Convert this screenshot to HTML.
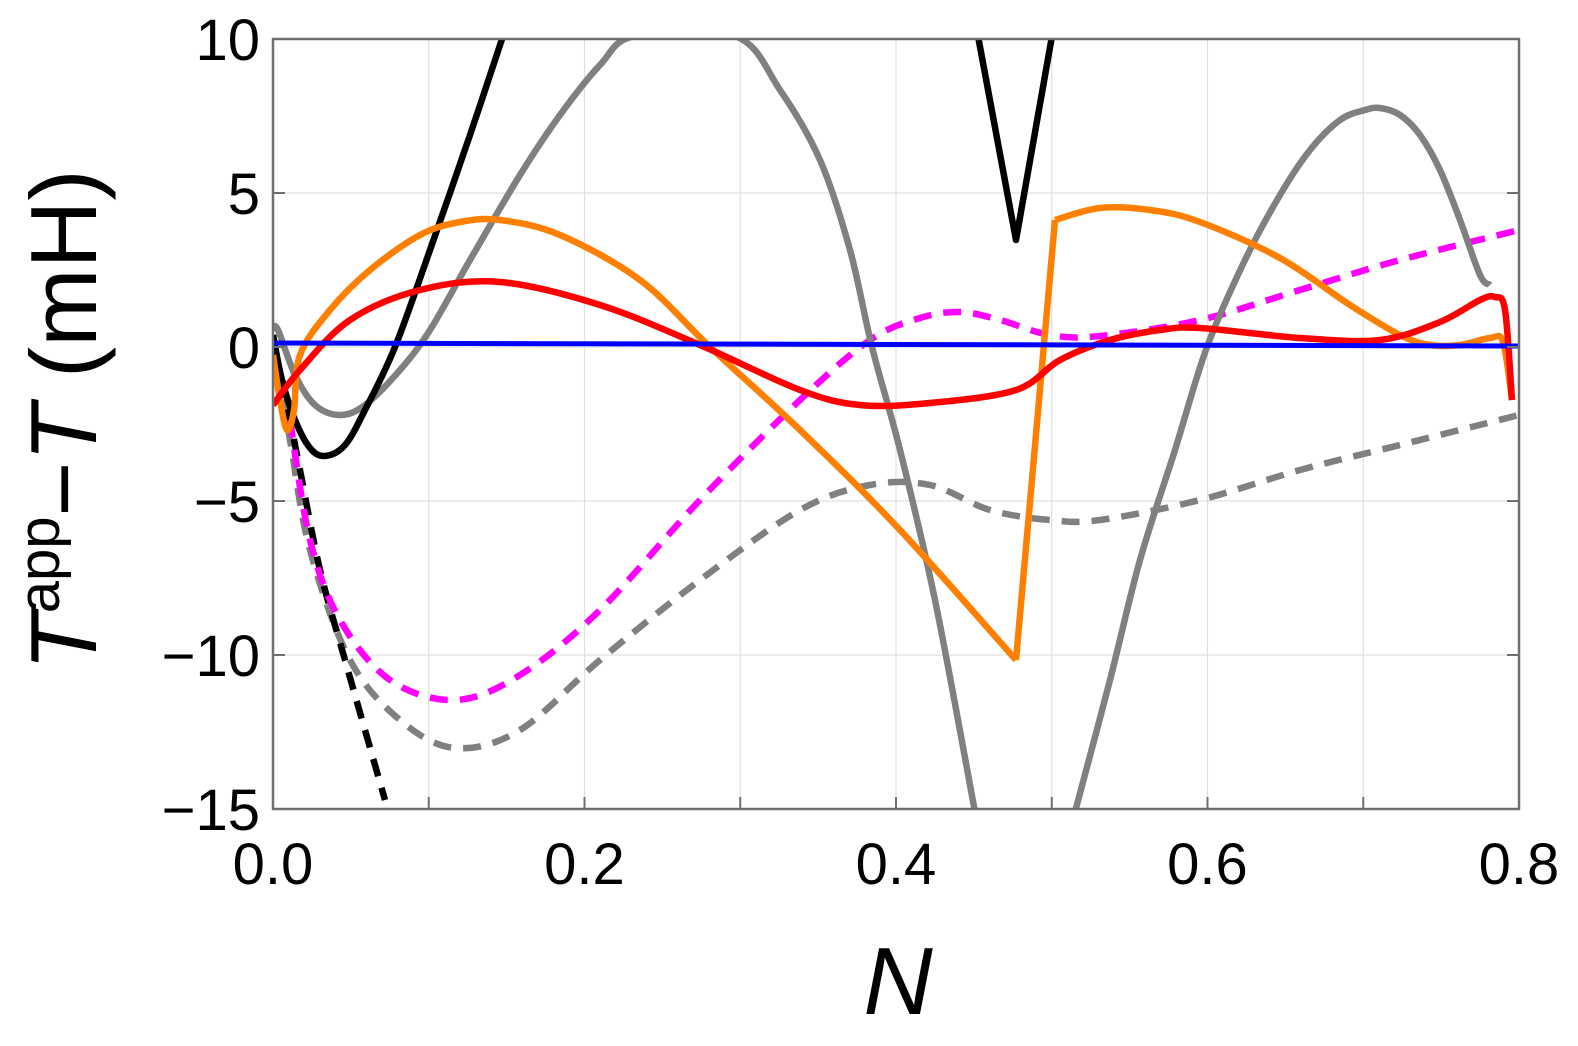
<!DOCTYPE html>
<html><head><meta charset="utf-8"><style>
html,body{margin:0;padding:0;background:#fff;}
svg{display:block;}
text{font-family:"Liberation Sans",sans-serif;fill:#000;}
</style></head><body>
<svg id="s" width="1578" height="1046" viewBox="0 0 1578 1046">
<g stroke="#e0e0e0" stroke-width="1.2">
<line x1="428.75" y1="39" x2="428.75" y2="809"/><line x1="584.5" y1="39" x2="584.5" y2="809"/>
<line x1="740.25" y1="39" x2="740.25" y2="809"/><line x1="896" y1="39" x2="896" y2="809"/>
<line x1="1051.75" y1="39" x2="1051.75" y2="809"/><line x1="1207.5" y1="39" x2="1207.5" y2="809"/>
<line x1="1363.25" y1="39" x2="1363.25" y2="809"/>
<line x1="273" y1="193" x2="1519" y2="193"/><line x1="273" y1="347" x2="1519" y2="347"/>
<line x1="273" y1="501" x2="1519" y2="501"/><line x1="273" y1="655" x2="1519" y2="655"/>
</g>
<defs><clipPath id="c"><rect x="273" y="39" width="1246" height="770"/></clipPath></defs>
<g clip-path="url(#c)" fill="none" stroke-width="6.5" stroke-linejoin="round">
<polyline class="sm" stroke="#808080" stroke-dasharray="18,12" points="273,340 290,440 310,550 350,660 400,720 455,748 520,730 600,660 700,580 800,510 870,485 930,485 990,510 1050,520 1100,520 1200,500 1300,470 1400,445 1519,415"/>
<polyline class="sm" stroke="#000" stroke-dasharray="18,12" points="282,380 300,470 320,570 345,660 385,800"/>
<polyline class="sm" stroke="#ff00ff" stroke-dasharray="18,12" points="290,420 310,540 340,620 390,680 455,700 520,675 600,610 700,500 800,400 870,340 920,318 960,312 1000,320 1050,335 1100,336 1200,320 1300,290 1400,260 1519,230"/>
<polyline class="sm" stroke="#808080" points="273,328 278,330 295,375 315,405 340,415 365,405 400,370 430,330 470,260 520,175 560,115 600,65 635,36 735,36 780,90 820,160 850,250 872,347 900,450 935,600 975,812"/>
<polyline class="sm" stroke="#808080" points="1075,812 1110,680 1140,560 1175,450 1207,347 1245,260 1280,195 1310,150 1340,120 1365,110 1380,108 1400,115 1420,135 1440,170 1460,220 1480,275 1490,285"/>
<polyline class="sm" stroke="#000" points="273,335 282,380 295,420 310,448 325,456 345,445 365,410 395,347 430,250 470,135 503,36"/>
<polyline stroke="#000" points="978,36 1016,240 1052,36"/>
<polyline class="sm" stroke="#ff8000" points="273,355 280,400 287,430 294,410 300,355 330,310 370,270 420,235 460,222 500,220 560,235 640,280 710,347 800,430 900,530 1016,660"/>
<polyline stroke="#ff8000" points="1016,660 1055,220"/>
<polyline class="sm" stroke="#ff8000" points="1055,220 1100,208 1150,210 1200,222 1280,258 1350,305 1400,335 1430,345 1460,345 1490,338 1503,342 1512,400"/>
<polyline class="sm" stroke="#ff0000" points="273,405 300,370 350,320 420,290 500,282 600,305 700,345 800,390 860,405 930,403 1016,390 1060,360 1110,340 1160,330 1200,328 1300,338 1380,340 1440,322 1480,300 1495,297 1505,310 1512,400"/>
<polyline stroke="#0000ff" stroke-width="5" points="273,343 1519,346"/>
</g>
<rect x="273" y="39" width="1246" height="770" fill="none" stroke="#707070" stroke-width="2.5"/>
<g stroke="#707070" stroke-width="2">
<line x1="428.75" y1="809" x2="428.75" y2="797"/><line x1="584.5" y1="809" x2="584.5" y2="797"/>
<line x1="740.25" y1="809" x2="740.25" y2="797"/><line x1="896" y1="809" x2="896" y2="797"/>
<line x1="1051.75" y1="809" x2="1051.75" y2="797"/><line x1="1207.5" y1="809" x2="1207.5" y2="797"/>
<line x1="1363.25" y1="809" x2="1363.25" y2="797"/>
<line x1="273" y1="193" x2="285" y2="193"/><line x1="273" y1="347" x2="285" y2="347"/>
<line x1="273" y1="501" x2="285" y2="501"/><line x1="273" y1="655" x2="285" y2="655"/>
<line x1="1519" y1="193" x2="1507" y2="193"/><line x1="1519" y1="347" x2="1507" y2="347"/>
<line x1="1519" y1="501" x2="1507" y2="501"/><line x1="1519" y1="655" x2="1507" y2="655"/>
</g>
<g font-size="58" text-anchor="end">
<text x="260" y="60">10</text><text x="260" y="214">5</text><text x="260" y="368">0</text>
<text x="260" y="522">−5</text><text x="260" y="676">−10</text><text x="260" y="830">−15</text>
</g>
<g font-size="58" text-anchor="middle">
<text x="273" y="884">0.0</text><text x="584.5" y="884">0.2</text><text x="896" y="884">0.4</text>
<text x="1207.5" y="884">0.6</text><text x="1519" y="884">0.8</text>
</g>
<text x="898" y="1014" font-size="96" font-style="italic" text-anchor="middle">N</text>
<text transform="translate(96,420) rotate(-90)" font-size="94" text-anchor="middle"><tspan font-style="italic">T</tspan><tspan font-size="58" dy="-37">app</tspan><tspan dy="37">−</tspan><tspan font-style="italic">T</tspan> (mH)</text>
</svg>
<script>
document.querySelectorAll('polyline.sm').forEach(function(pl){
var p=pl.getAttribute('points').trim().split(/\s+/).map(function(s){return s.split(',').map(Number);});
var d='M'+p[0][0]+','+p[0][1];
for(var i=0;i<p.length-1;i++){
var p0=p[i-1]||p[i],p1=p[i],p2=p[i+1],p3=p[i+2]||p2;
var c1=[p1[0]+(p2[0]-p0[0])/6,p1[1]+(p2[1]-p0[1])/6],c2=[p2[0]-(p3[0]-p1[0])/6,p2[1]-(p3[1]-p1[1])/6];
d+=' C'+c1[0]+','+c1[1]+' '+c2[0]+','+c2[1]+' '+p2[0]+','+p2[1];}
var path=document.createElementNS('http://www.w3.org/2000/svg','path');
['stroke','stroke-dasharray'].forEach(function(a){if(pl.getAttribute(a))path.setAttribute(a,pl.getAttribute(a));});
path.setAttribute('d',d);pl.parentNode.replaceChild(path,pl);});
</script>
</body></html>
